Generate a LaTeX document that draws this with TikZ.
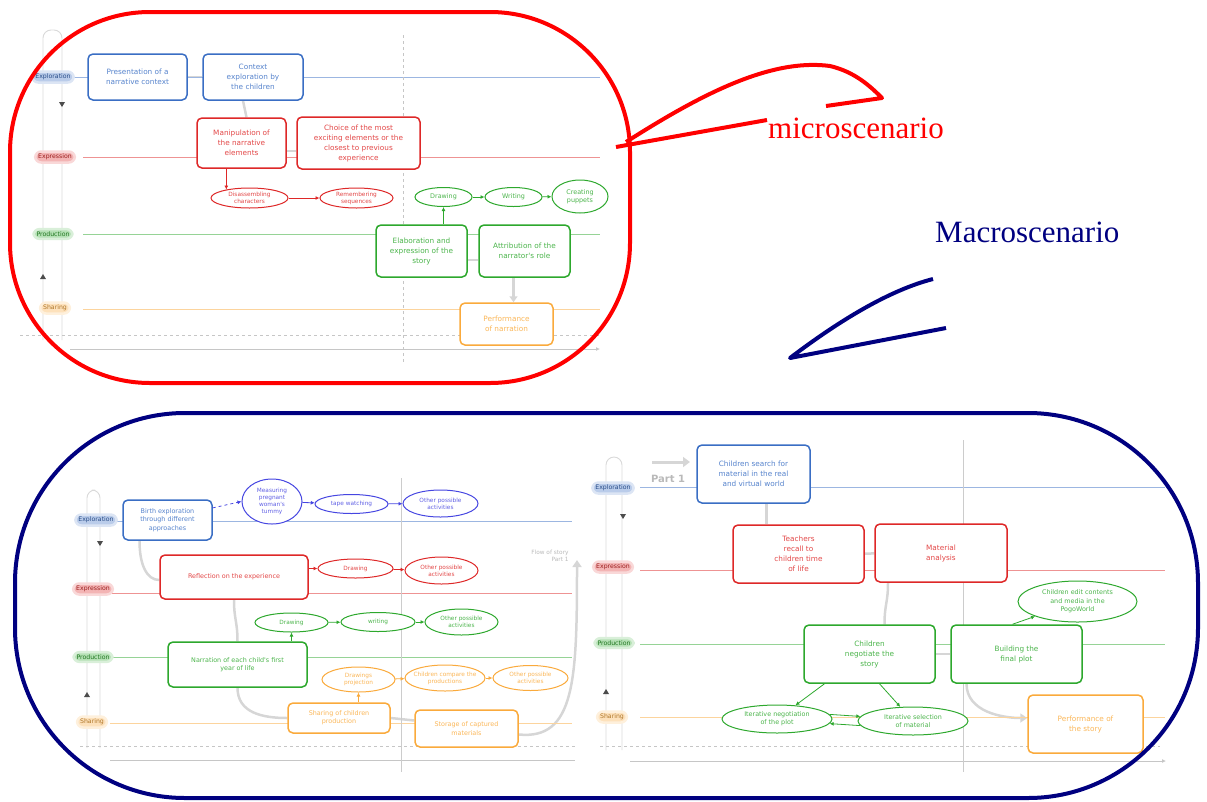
\documentclass[tikz,border=0pt]{standalone}
\usepackage{fontspec}
\setmainfont{Liberation Serif}
\newfontfamily\bxf{DejaVu Sans}
\usetikzlibrary{arrows.meta,shapes.geometric,backgrounds}
\definecolor{cblue}{RGB}{58,110,196}
\definecolor{cpblue}{RGB}{70,70,225}
\definecolor{cred}{RGB}{222,40,40}
\definecolor{cgreen}{RGB}{45,168,45}
\definecolor{corange}{RGB}{250,170,60}
\definecolor{cnavy}{RGB}{0,0,128}
\definecolor{cgray}{RGB}{214,214,214}
\newcommand\fntA{\bxf\fontsize{7.3}{10}\selectfont}
\newcommand\fntB{\bxf\fontsize{6.4}{8.3}\selectfont}
\newcommand\fntC{\bxf\fontsize{5.8}{7}\selectfont}
\newcommand\fntL{\bxf\fontsize{6.2}{7}\selectfont}
\newcommand\EL[7]{\node[el=#1,minimum width=#4pt,minimum height=#5pt] (#2) at (#3) {};
  \node[etx=#1,font=#7] (#2t) at (#2) {#6};}
\tikzset{
  rb/.style={draw=#1, text=#1!85, fill=white, rounded corners=5pt, line width=1.5pt, align=center, inner sep=1pt},
  el/.style={ellipse, draw=#1, fill=white, line width=1pt, inner sep=0pt},
  etx/.style={text=#1!85, align=center, inner sep=0pt},
  ar/.style={draw=#1, line width=0.8pt, -{Latex[length=4pt,width=4pt]}},
  gc/.style={draw=cgray, line width=2.5pt},
  lane/.style={draw=#1!50, line width=0.6pt},
  lanel/.style={fill=#1!35, draw=#1!18, line width=2.5pt, text=#1!70!black, rounded corners=6pt, inner xsep=3pt, inner ysep=2.5pt, font=\fntL},
  barc/.style={draw=gray!30, line width=0.9pt, rounded corners=8pt},
  axd/.style={draw=gray!45, dashed, line width=0.6pt},
  axs/.style={draw=gray!45, line width=0.8pt},
  mk/.style={fill=gray!60!black},
  callout/.style={line width=4pt, line join=round},
}
\begin{document}
\begin{tikzpicture}[x=1pt,y=-1pt]
\useasboundingbox (0,0) rectangle (1207,801);

% ================= MICRO =================
\draw[barc] (43,340) -- (43,30) -- (62,30) -- (62,340);
\draw[lane=cblue] (70,77) -- (600,77);
\draw[lane=cred] (83,157) -- (600,157);
\draw[lane=cgreen] (83,234) -- (600,234);
\draw[lane=corange] (83,309) -- (600,309);
\draw[axd] (20,335) -- (600,335);
\draw[axs,-{Latex[length=4pt,width=4pt]}] (70,349) -- (600,349);
\draw[axd] (403,35) -- (403,362);
\fill[mk] (59,102) -- (65,102) -- (62,107) -- cycle;
\fill[mk] (40,279) -- (46,279) -- (43,274) -- cycle;
\node[lanel=cblue] (lx1) at (53,77) {Exploration};
\node[lanel=cred] (lr1) at (55,157) {Expression};
\node[lanel=cgreen] (lg1) at (53,234) {Production};
\node[lanel=corange] (lo1) at (55,308) {Sharing};

\node[rb=cblue, font=\fntA, minimum width=99pt, minimum height=46pt] (pres) at (137.5,77) {Presentation of a\\narrative context};
\node[rb=cblue, font=\fntA, minimum width=100pt, minimum height=46pt] (ctx) at (253,77) {Context\\exploration by\\the children};
\node[rb=cred, font=\fntA, minimum width=89pt, minimum height=50pt] (manip) at (241.5,143) {Manipulation of\\the narrative\\elements};
\node[rb=cred, font=\fntA, minimum width=123pt, minimum height=52pt] (choice) at (358.5,143) {Choice of the most\\exciting elements or the\\closest to previous\\experience};
\EL{cred}{disas}{249.5,198}{77}{20}{Disassembling\\characters}{\fntC}
\EL{cred}{remem}{356.5,198}{73}{20}{Remembering\\sequences}{\fntC}
\EL{cgreen}{drawa}{443.5,197}{57}{19}{Drawing}{\fntB}
\EL{cgreen}{writa}{513.5,197}{57}{19}{Writing}{\fntB}
\EL{cgreen}{puppet}{580,196.5}{56}{33}{Creating\\puppets}{\fntB}
\node[rb=cgreen, font=\fntA, minimum width=91pt, minimum height=52pt] (elab) at (421.5,251) {Elaboration and\\expression of the\\story};
\node[rb=cgreen, font=\fntA, minimum width=91pt, minimum height=52pt] (attr) at (524.5,251) {Attribution of the\\narrator's role};
\node[rb=corange, font=\fntA, minimum width=93pt, minimum height=42pt] (perf) at (506.5,324) {Performance\\of narration};

\draw[ar=cred] (disas.160 |- manip.south) -- (disas.160);
\draw[ar=cred] (disas) -- (remem);
\draw[ar=cgreen] (drawa) -- (writa);
\draw[ar=cgreen] (writa) -- (puppet);
\draw[ar=cgreen] (elab.north -| drawa.south) -- (drawa.south);

\begin{scope}[on background layer]
\draw[gc] (pres) -- (ctx);
\draw[gc] ([xshift=-10pt]ctx.south) -- ([xshift=5pt]manip.north);
\draw[gc] ([yshift=-8pt]manip.east) -- ([yshift=-8pt]manip.east -| choice.west);
\draw[gc] ([yshift=-9pt]elab.east) -- ([yshift=-9pt]elab.east -| attr.west);
\draw[gc,-{Triangle[length=6pt,width=8pt]}] ([xshift=-11pt]attr.south) -- ([xshift=-11pt]attr.south |- perf.north);
\end{scope}

% ================= BOTTOM LEFT =================
\draw[barc] (87,748) -- (87,490) -- (100,490) -- (100,748);
\draw[lane=cblue] (110,521) -- (572,521);
\draw[lane=cred] (110,593) -- (572,593);
\draw[lane=cgreen] (110,657) -- (572,657);
\draw[lane=corange] (110,723) -- (572,723);
\draw[axd] (80,746) -- (575,746);
\draw[axs] (110,760) -- (575,760);
\draw[draw=gray!40, line width=0.6pt] (401,478) -- (401,772);
\fill[mk] (97,541) -- (103,541) -- (100,546) -- cycle;
\fill[mk] (84,697) -- (90,697) -- (87,692) -- cycle;
\node[lanel=cblue] (lx2) at (96,520) {Exploration};
\node[lanel=cred] (lr2) at (93,589) {Expression};
\node[lanel=cgreen] (lg2) at (93,657) {Production};
\node[lanel=corange] (lo2) at (92,722) {Sharing};

\node[rb=cblue, font=\fntB, minimum width=89pt, minimum height=40pt] (birth) at (167.5,520) {Birth exploration\\through different\\approaches};
\EL{cpblue}{meas}{272,501.5}{60}{45}{Measuring\\pregnant\\woman's\\tummy}{\fntC}
\EL{cpblue}{tape}{351.5,504}{73}{19}{tape watching}{\fntC}
\EL{cpblue}{othb}{440.5,503.5}{75}{27}{Other possible\\activities}{\fntC}
\node[rb=cred, font=\fntB, minimum width=148pt, minimum height=44pt] (refl) at (234,577) {Reflection on the experience};
\EL{cred}{drawr}{355.5,568.5}{75}{19}{Drawing}{\fntC}
\EL{cred}{othr}{441.5,570.5}{73}{27}{Other possible\\activities}{\fntC}
\EL{cgreen}{drawg}{291.5,622.5}{73}{19}{Drawing}{\fntC}
\EL{cgreen}{writg}{378,622}{74}{19}{writing}{\fntC}
\EL{cgreen}{othg}{461.5,622}{73}{26}{Other possible\\activities}{\fntC}
\node[rb=cgreen, font=\fntB, minimum width=139pt, minimum height=45pt] (narr) at (237.5,664.5) {Narration of each child's first\\year of life};
\EL{corange}{proj}{358.5,679.5}{73}{25}{Drawings\\projection}{\fntC}
\EL{corange}{comp}{445,678}{80}{26}{Children compare the\\productions}{\fntC}
\EL{corange}{otho}{530.5,678}{75}{25}{Other possible\\activities}{\fntC}
\node[rb=corange, font=\fntB, minimum width=102pt, minimum height=30pt] (shar) at (339,718) {Sharing of children\\production};
\node[rb=corange, font=\fntB, minimum width=103pt, minimum height=37pt] (stor) at (466.5,728.5) {Storage of captured\\materials};
\node[text=gray!55, font=\fntC, align=right] (flowt) at (550,556) {Flow of story\\Part 1};
\coordinate (flowtip) at (577,560);

\draw[ar=cpblue, dashed] (birth.15) -- (meas.west);
\draw[ar=cpblue] (meas) -- (tape);
\draw[ar=cpblue] (tape) -- (othb);
\draw[ar=cred] (refl.east |- drawr) -- (drawr);
\draw[ar=cred] (drawr) -- (othr);
\draw[ar=cgreen] (drawg) -- (writg);
\draw[ar=cgreen] (writg) -- (othg);
\draw[ar=cgreen] (narr.north -| drawg.south) -- (drawg.south);
\draw[ar=corange] (proj) -- (comp);
\draw[ar=corange] (comp) -- (otho);
\draw[ar=corange] (shar.north -| proj.south) -- (proj.south);

\begin{scope}[on background layer]
\draw[gc] ([xshift=-28pt]birth.south) .. controls +(0,25) and +(-12,0) .. ([yshift=-3pt]refl.west);
\draw[gc] (refl.south) .. controls +(0,20) and +(0,-20) .. (narr.north);
\draw[gc] (narr.south) .. controls +(0,25) and +(-25,0) .. (shar.west);
\draw[gc] (shar.east) -- ([yshift=8pt]stor.west);
\draw[gc,-{Triangle[length=7pt,width=9pt]}] ([yshift=-6pt]stor.east) .. controls (575,740) and (577,680) .. (flowtip);
\end{scope}

% ================= BOTTOM RIGHT =================
\draw[barc] (606,750) -- (606,457) -- (622,457) -- (622,750);
\draw[lane=cblue] (640,487) -- (1165,487);
\draw[lane=cred] (640,570) -- (1165,570);
\draw[lane=cgreen] (640,644) -- (1165,644);
\draw[lane=corange] (640,717) -- (1165,717);
\draw[axd] (600,746) -- (1160,746);
\draw[axs,-{Latex[length=4pt,width=4pt]}] (630,761) -- (1166,761);
\draw[draw=gray!40, line width=0.6pt] (963,440) -- (963,772);
\fill[mk] (620,514) -- (626,514) -- (623,519) -- cycle;
\fill[mk] (603,694) -- (609,694) -- (606,689) -- cycle;
\node[lanel=cblue] (lx3) at (613,488) {Exploration};
\node[lanel=cred] (lr3) at (613,567) {Expression};
\node[lanel=cgreen] (lg3) at (614,643) {Production};
\node[lanel=corange] (lo3) at (612,717) {Sharing};
\coordinate (pa1) at (652,462);
\coordinate (pa2) at (690,462);
\node[text=gray!55, font=\bxf\bfseries\fontsize{10}{12}\selectfont] (part1) at (668,479) {Part 1};

\node[rb=cblue, font=\fntA, minimum width=113pt, minimum height=58pt] (search) at (753.5,474) {Children search for\\material in the real\\and virtual world};
\node[rb=cred, font=\fntA, minimum width=131pt, minimum height=58pt] (teach) at (798.5,554) {Teachers\\recall to\\children time\\of life};
\node[rb=cred, font=\fntA, minimum width=132pt, minimum height=58pt] (mat) at (941,553) {Material\\analysis};
\EL{cgreen}{pogo}{1077.5,601.5}{119}{41}{Children edit contents\\and media in the\\PogoWorld}{\fntB}
\node[rb=cgreen, font=\fntA, minimum width=131pt, minimum height=58pt] (nego) at (869.5,654) {Children\\negotiate the\\story};
\node[rb=cgreen, font=\fntA, minimum width=131pt, minimum height=58pt] (build) at (1016.5,654) {Building the\\final plot};
\EL{cgreen}{itneg}{777,719}{110}{28}{Iterative negotiation\\of the plot}{\fntB}
\EL{cgreen}{itsel}{913,721}{110}{28}{Iterative selection\\of material}{\fntB}
\node[rb=corange, font=\fntA, minimum width=115pt, minimum height=58pt] (perfb) at (1085.5,724) {Performance of\\the story};

\draw[ar=cgreen] ([xshift=-4pt]build.north) -- (pogo);
\draw[ar=cgreen] ([xshift=-45pt]nego.south) -- (itneg);
\draw[ar=cgreen] ([xshift=10pt]nego.south) -- (itsel);
\draw[ar=cgreen] (itneg.5) -- (itsel.175);
\draw[ar=cgreen] (itsel.185) -- (itneg.355);

\begin{scope}[on background layer]
\draw[gc, line width=3pt, -{Triangle[length=7pt,width=10pt]}] (pa1) -- (pa2);
\draw[gc] ([xshift=13pt]search.south) -- ([xshift=13pt]search.south |- teach.north);
\draw[gc] (teach) -- (mat);
\draw[gc] ([xshift=-53pt]mat.south) .. controls +(0,20) and +(0,-20) .. ([xshift=15pt]nego.north);
\draw[gc] (nego) -- (build);
\draw[gc,-{Triangle[length=7pt,width=9pt]}] ([xshift=-50pt]build.south) .. controls +(0,28) and +(-25,0) .. ([yshift=6pt]perfb.west);
\end{scope}

% ================= CALLOUTS =================
\draw[callout, red] (10,12) [rounded corners=140pt] rectangle (630,383);
\draw[callout, cnavy] (15,413) [rounded corners=170pt] rectangle (1198,798);
\node[text=red, font=\fontsize{31}{34}\selectfont, anchor=base west, inner sep=0pt] (micro) at (768,138) {microscenario};
\node[text=cnavy, font=\fontsize{31}{34}\selectfont, anchor=base west, inner sep=0pt] (macro) at (935,242) {Macroscenario};
\draw[callout, red] (616,147) -- (767,120);
\draw[callout, red] (626,142) .. controls (700,95) and (770,58) .. (830,66) .. controls (855,72) and (870,86) .. (882,98) -- (826,106);
\draw[callout, cnavy] (933,279) .. controls (890,290) and (840,320) .. (790,358) -- (946,328);
\end{tikzpicture}
\end{document}
